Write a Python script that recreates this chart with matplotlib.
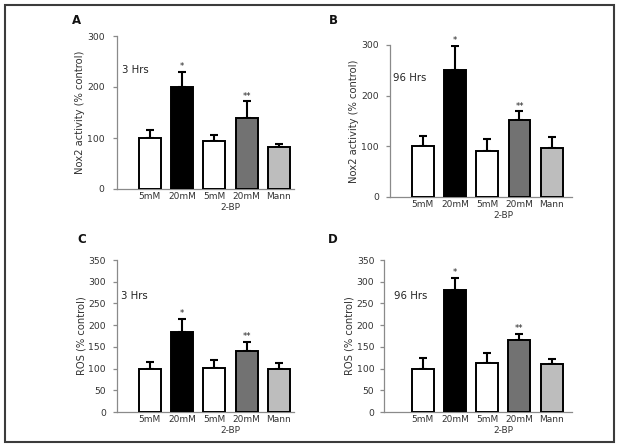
import matplotlib
matplotlib.use("Agg")
import matplotlib.pyplot as plt
from matplotlib.patches import Rectangle

plt.rcParams['font.family'] = ['DejaVu Sans']

# groups, same for every panel
groups = ["5mM", "20mM", "5mM", "20mM", "Mann"]
bar_colors = ["white", "black", "white", "#727272", "#bdbdbd"]
stars = ["", "*", "", "**", ""]

# A: Nox2 activity, 3 hrs
nox_3h = [100, 200, 94, 139, 83]
nox_3h_err = [15, 30, 11, 33, 6]
# B: Nox2 activity, 96 hrs
nox_96h = [100, 250, 91, 152, 97]
nox_96h_err = [21, 49, 24, 17, 21]
# C: ROS, 3 hrs
ros_3h = [100, 184, 101, 140, 100]
ros_3h_err = [16, 30, 18, 22, 13]
# D: ROS, 96 hrs
ros_96h = [100, 280, 113, 165, 111]
ros_96h_err = [24, 28, 24, 15, 11]

W, H = 621, 448
fig = plt.figure(figsize=(W / 100, H / 100), dpi=100)


def px_axes(left, right, top, bottom):
    # pixel box -> figure fraction
    return fig.add_axes([left / W, 1 - bottom / H, (right - left) / W, (bottom - top) / H])


def draw_panel(ax, values, errors, ylabel, ymax, step, time_label, xlim, ypad, label_pos):
    x = list(range(len(values)))
    ax.bar(x, values, width=0.68, color=bar_colors, edgecolor="black", linewidth=1.4, zorder=3)
    ax.errorbar(x, values, yerr=[[0] * len(errors), errors], fmt="none", ecolor="black",
                elinewidth=1.5, capsize=3.2, capthick=1.5, zorder=2)
    for xi, v, e, s in zip(x, values, errors, stars):
        if s:
            ax.text(xi, v + e + ymax * 0.005, s, ha="center", va="bottom", fontsize=6, color="#222222")

    ax.set_xlim(*xlim)
    ax.set_ylim(0, ymax)
    ax.set_yticks(range(0, ymax + 1, step))
    ax.set_xticks(x)
    ax.set_xticklabels(groups)
    ax.annotate("2-BP", xy=(2.5, 0), xycoords=("data", "axes fraction"), xytext=(0, -13),
                textcoords="offset points", ha="center", va="center", fontsize=6.5, color="#333333")

    for side in ("top", "right"):
        ax.spines[side].set_visible(False)
    for side in ("left", "bottom"):
        ax.spines[side].set_color("#8a8a8a")
        ax.spines[side].set_linewidth(0.9)
    ax.tick_params(axis="x", length=0, pad=2.5, labelsize=6.5, labelcolor="#333333")
    ax.tick_params(axis="y", length=3, width=0.9, color="#8a8a8a", pad=ypad,
                   labelsize=6.7, labelcolor="#333333")
    ax.set_ylabel(ylabel, fontsize=7.2, color="#333333", labelpad=1.5)
    ax.text(label_pos[0], label_pos[1], time_label, transform=ax.transAxes,
            ha="left", va="center", fontsize=7.3, color="#222222")


axA = px_axes(117, 294, 36, 189)
draw_panel(axA, nox_3h, nox_3h_err, "Nox2 activity (% control)", 300, 100, "3 Hrs",
           (-1.02, 4.47), 6, (0.03, 0.778))

axB = px_axes(390, 572, 45, 197)
draw_panel(axB, nox_96h, nox_96h_err, "Nox2 activity (% control)", 300, 100, "96 Hrs",
           (-1.02, 4.63), 5, (0.018, 0.78))

axC = px_axes(117, 294, 260, 412)
draw_panel(axC, ros_3h, ros_3h_err, "ROS (% control)", 350, 50, "3 Hrs",
           (-1.02, 4.47), 5, (0.02, 0.766))

axD = px_axes(384, 572, 260, 412)
draw_panel(axD, ros_96h, ros_96h_err, "ROS (% control)", 350, 50, "96 Hrs",
           (-1.2, 4.63), 4, (0.055, 0.766))

# panel letters
for letter, (lx, ly) in zip("ABCD", [(76, 21), (333, 21), (82, 239), (333, 239)]):
    fig.text(lx / W, 1 - ly / H, letter, ha="center", va="center", fontsize=8.5,
             fontweight="bold", color="#111111")

# outer frame
fig.patches.append(Rectangle((5 / W, 1 - 442 / H), 609 / W, 437 / H, transform=fig.transFigure,
                             fill=False, edgecolor="#3c3c3c", linewidth=1.5))

fig.savefig("out.png", dpi=100)
